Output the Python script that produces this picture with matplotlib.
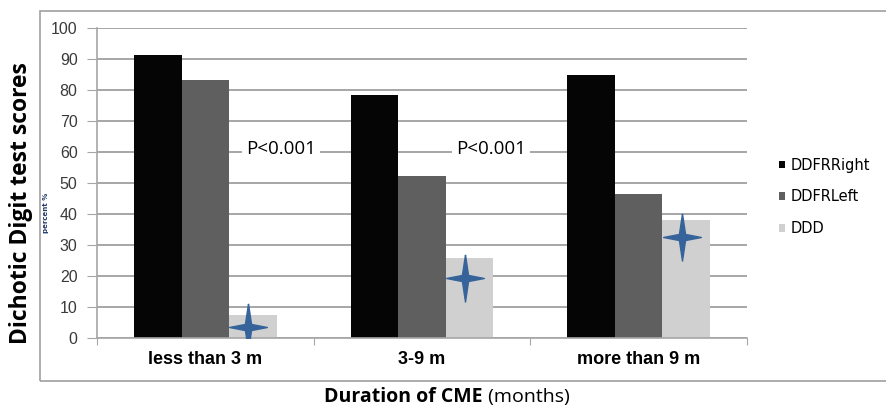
import numpy as np
import matplotlib
matplotlib.use('Agg')
import matplotlib.pyplot as plt
from matplotlib.patches import Rectangle
from matplotlib.path import Path

categories = ['less than 3 m', '3-9 m', 'more than 9 m']
series_names = ['DDFRRight', 'DDFRLeft', 'DDD']
ddfr_right = [91.3, 78.5, 85.0]
ddfr_left = [83.3, 52.3, 46.5]
ddd = [7.5, 25.8, 38.2]
star_values = [3.5, 19.5, 32.5]
p_labels = ['P<0.001', 'P<0.001']

colors = ['#050505', '#5f5f5f', '#d0d0d0']
grid_c = '#a6a6a6'

fig = plt.figure(figsize=(8.86, 4.07), dpi=100)
ax = fig.add_axes([0.1095, 0.1695, 0.7336, 0.7617])

x = np.arange(len(categories))
w = 0.219
for i, (vals, name) in enumerate(zip([ddfr_right, ddfr_left, ddd], series_names)):
    ax.bar(x + (i - 1) * w, vals, w, color=colors[i], label=name, zorder=2)

# four point star marker
c = 0.13
star = Path([(0, 1), (c, c), (0.8, 0), (c, -c), (0, -1),
             (-c, -c), (-0.8, 0), (-c, c), (0, 1)])
ax.plot(x + w - 0.02, star_values, linestyle='none', marker=star,
        markersize=34, color='#36649a', zorder=3)

# p-value texts between groups
for xi, lab in zip([0.35, 1.32], p_labels):
    ax.text(xi, 61, lab, fontsize=13.5, family='Open Sans', ha='center', va='center',
            bbox=dict(facecolor='white', edgecolor='none', pad=3), zorder=2.5)

ax.set_xlim(-0.5, 2.5)
ax.set_ylim(0, 100)
ax.set_yticks(range(0, 101, 10))
ax.yaxis.grid(True, color=grid_c, linewidth=1.4, zorder=0)
ax.set_axisbelow(True)
ax.set_xticks([-0.5, 0.5, 1.5, 2.5])
ax.set_xticklabels([])
ax.set_xticks(x, minor=True)
ax.set_xticklabels(categories, minor=True, fontsize=13, fontweight='bold',
                   family=['Liberation Sans Narrow', 'Liberation Sans'])
ax.tick_params(axis='x', which='minor', length=0, pad=9)
ax.tick_params(axis='x', which='major', length=5, color=grid_c, direction='out')
ax.tick_params(axis='y', length=7, pad=7, color=grid_c, labelsize=11.5, labelcolor='#3a3a3a')
for lab in ax.get_yticklabels():
    lab.set_family('Liberation Sans')
for s in ['top', 'right']:
    ax.spines[s].set_visible(False)
for s in ['left', 'bottom']:
    ax.spines[s].set_color(grid_c)
    ax.spines[s].set_linewidth(1.2)

ax.legend(loc='center left', bbox_to_anchor=(0.864, 0.516), bbox_transform=fig.transFigure,
          frameon=False, handlelength=0.45, handleheight=0.45, handletextpad=0.35,
          labelspacing=1.15, prop={'family': 'DejaVu Sans', 'size': 10.5})

# outer chart border
fig.patches.append(Rectangle((0.045, 0.064), 1.0, 0.909, transform=fig.transFigure,
                             fill=False, edgecolor='#a0a0a0', linewidth=1.2))

fig.text(0.0235, 0.5, 'Dichotic Digit test scores', rotation=90, ha='center', va='center',
         fontsize=16.5, fontweight='bold', family='Open Sans')
fig.text(0.052, 0.476, 'percent %', rotation=90, ha='center', va='center',
         fontsize=5, fontweight='bold', color='#1f3a68')
fig.text(0.545, 0.025, 'Duration of CME', ha='right', va='center',
         fontsize=14, fontweight='bold', family='Open Sans')
fig.text(0.545, 0.025, ' (months)', ha='left', va='center',
         fontsize=14, family='Open Sans')

fig.savefig('out.png', dpi=100)
